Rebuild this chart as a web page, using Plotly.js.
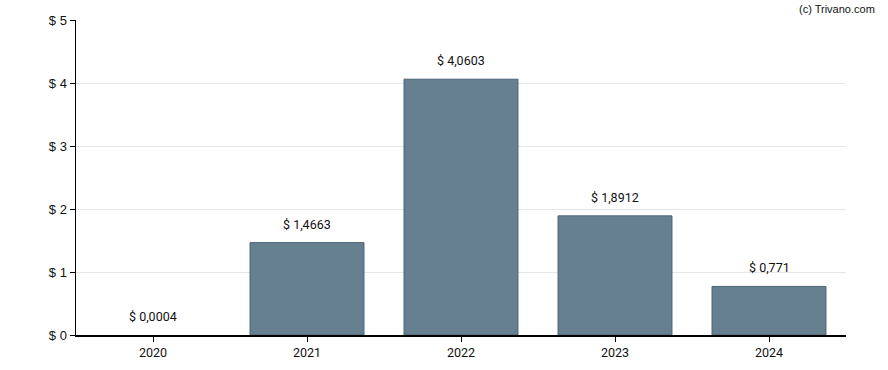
<!DOCTYPE html>
<html><head><meta charset="utf-8">
<script src="https://cdn.plot.ly/plotly-3.0.1.min.js"></script>
<style>body{margin:0;background:#fff}#c{width:888px;height:370px}</style>
</head><body><div id="c"></div>
<script>
const years = ["2020","2021","2022","2023","2024"];
const values = [0.0004, 1.4663, 4.0603, 1.8912, 0.771];
const labels = ["$ 0,0004","$ 1,4663","$ 4,0603","$ 1,8912","$ 0,771"];
const yTicks = [0,1,2,3,4,5];
const yTickText = ["$ 0","$ 1","$ 2","$ 3","$ 4","$ 5"];

const xPos = years.map((_, i) => i);
const trace = {
  type: "bar", x: xPos, y: values,
  marker: {color: "#66808f", line: {color: "#4b6577", width: values.map(v => v < 0.01 ? 0 : 1)}},
  width: 0.74, hoverinfo: "none"
};
const annotations = xPos.map((xp, i) => ({
  x: xp, y: values[i], xref: "x", yref: "y", text: labels[i],
  showarrow: false, yanchor: "bottom", yshift: 9,
  font: {family: "Roboto, Arial, sans-serif", size: 12.5, color: "#111"}
}));
annotations.push({
  xref: "paper", yref: "paper", x: 1.04, y: 1.035, xanchor: "right", yanchor: "middle",
  text: "(c) Trivano.com", showarrow: false,
  font: {family: "Arial, Liberation Sans, sans-serif", size: 11, color: "#111"}
});
const layout = {
  width: 888, height: 370,
  margin: {l: 76, r: 42, t: 20, b: 35},
  paper_bgcolor: "#fff", plot_bgcolor: "#fff",
  showlegend: false,
  font: {family: "Roboto, Arial, sans-serif", size: 12.5, color: "#111"},
  xaxis: {
    range: [-0.5, 4.5], tickvals: xPos, ticktext: years,
    showline: true, linecolor: "#000", linewidth: 1.5,
    ticks: "outside", ticklen: 5, tickcolor: "#000", showgrid: false, zeroline: false,
    tickfont: {size: 12.5}
  },
  yaxis: {
    range: [0, 5], tickvals: yTicks, ticktext: yTickText,
    showline: true, linecolor: "#000", linewidth: 1.5,
    ticks: "outside", ticklen: 5, tickcolor: "#000",
    showgrid: true, gridcolor: "#e6e6e6", gridwidth: 1, zeroline: false,
    tickfont: {family: "Arial, Liberation Sans, sans-serif", size: 13}
  },
  annotations: annotations
};
Plotly.newPlot("c", [trace], layout, {displayModeBar: false, staticPlot: true});
</script></body></html>
